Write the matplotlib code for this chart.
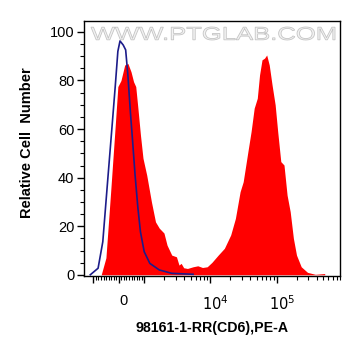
import matplotlib
matplotlib.use("Agg")
import matplotlib.pyplot as plt
import matplotlib.transforms as mtransforms
from matplotlib.textpath import TextPath
from matplotlib.patches import PathPatch
from matplotlib.font_manager import FontProperties
import numpy as np

# fluorescence values (PE-A) and relative counts
x_ctrl = [-1114, -815, -630, -444, -259, -137, -37, 48, 174, 270, 359, 456, 544, 641,
          752, 852, 1000, 1216, 1687, 2604, 5465]
y_ctrl = [0, 2.7, 13.6, 38, 62, 78, 92, 96.3, 94.6, 92.6, 82, 67, 55, 41,
          27.5, 17.7, 9.5, 4.7, 2, 0.6, 0.2]

x_cd6 = [-693, -507, -322, -137, -37, 85, 233, 359, 481, 581, 667, 752, 852, 952,
         1092, 1286, 1480, 1687, 1986, 2212, 2604, 3066, 3348, 3609, 3942, 4492,
         5465, 6435, 7576, 8920, 10503, 13070, 16210, 20180, 23760, 27980, 31160,
         36690, 41010, 45660, 50850, 55010, 59890, 65410, 70500, 77000, 84940,
         94600, 103300, 115100, 128600, 143200, 159500, 178300, 198600, 233800,
         290900, 381500, 528900]
y_cd6 = [0, 7, 34, 62, 77.5, 80, 86.4, 87, 83.6, 79.5, 77.5, 68.6, 57.6, 48,
         41, 30, 21.8, 19.2, 17.2, 12.2, 8.1, 7.4, 4, 4.7, 2.9, 2.6,
         3.3, 3.7, 3, 3.3, 5.1, 8.1, 10.9, 16.4, 23.2, 34.2, 38.3,
         50.7, 59, 68.6, 72.7, 82.3, 88.5, 89.2, 90.5, 86.4, 78.2,
         70, 59, 46.6, 45.2, 32.8, 26, 15, 8.1, 3.3,
         1, 0.2, 0.5]

x_major = [-1000, 0, 1000, 10000, 100000]
x_major_labels = ["", "0", "", "$10^4$", "$10^5$"]
y_ticks = [0, 20, 40, 60, 80, 100]

W, H = 361, 356
fig = plt.figure(figsize=(W/100, H/100), dpi=100)
ax = fig.add_axes([84/W, 80/H, 256/W, 255/H])
ax.set_xscale('symlog', linthresh=1000, linscale=0.345)

ax.fill_between(x_cd6, y_cd6, 0, color='#ff0000', lw=0, zorder=2)
ax.plot(x_ctrl, y_ctrl, color='#1c1c8a', lw=1.2, zorder=3)

ax.set_xlim(-1386, 528900)
ax.set_ylim(-0.5, 104.5)

minor = list(range(-900, 1000, 100))
for d in [1000, 10000, 100000]:
    minor += [k * d for k in range(2, 10)]
ax.set_xticks(x_major)
ax.set_xticklabels(x_major_labels)
ax.set_xticks(minor, minor=True)
ax.set_yticks(y_ticks)
ax.set_yticks(np.arange(0, 105, 5), minor=True)

ax.tick_params(axis='both', which='major', direction='out', length=5, width=1,
               labelsize=10.5, colors='black')
ax.tick_params(axis='both', which='minor', direction='out', length=3, width=0.8)
ax.tick_params(axis='x', which='major', pad=8)
ax.tick_params(axis='y', which='major', pad=2)
shift = mtransforms.ScaledTranslation(5/100, 0, fig.dpi_scale_trans)
for lab in ax.get_xticklabels():
    lab.set_family('Liberation Sans')
    lab.set_transform(lab.get_transform() + shift)
for lab in ax.get_yticklabels():
    lab.set_family('Liberation Sans')
for s in ax.spines.values():
    s.set_linewidth(1)

# watermark, stretched to the box it fills in the picture
tp = TextPath((0, 0), "WWW.PTGLAB.COM", size=10, prop=FontProperties(family='Liberation Sans'))
ext = tp.get_extents()
x0, x1, y0, y1 = 91, 335, H - 40, H - 27
tr = (mtransforms.Affine2D().translate(-ext.x0, -ext.y0)
      .scale((x1 - x0) / ext.width, (y1 - y0) / ext.height).translate(x0, y0))
fig.patches.append(PathPatch(tr.transform_path(tp), facecolor='#f2f2f2', edgecolor='#c4c4c4',
                             lw=0.6, transform=mtransforms.IdentityTransform(), zorder=1))

fig.text(27/W, 1 - 143/H, "Relative Cell  Number", rotation=90, ha='center', va='center',
         fontsize=10.5, fontweight='bold', family='Liberation Sans')
fig.text(212/W, 1 - 328/H, "98161-1-RR(CD6),PE-A", ha='center', va='center',
         fontsize=10.2, fontweight='bold', family='Liberation Sans')

fig.savefig("out.png", dpi=100)
